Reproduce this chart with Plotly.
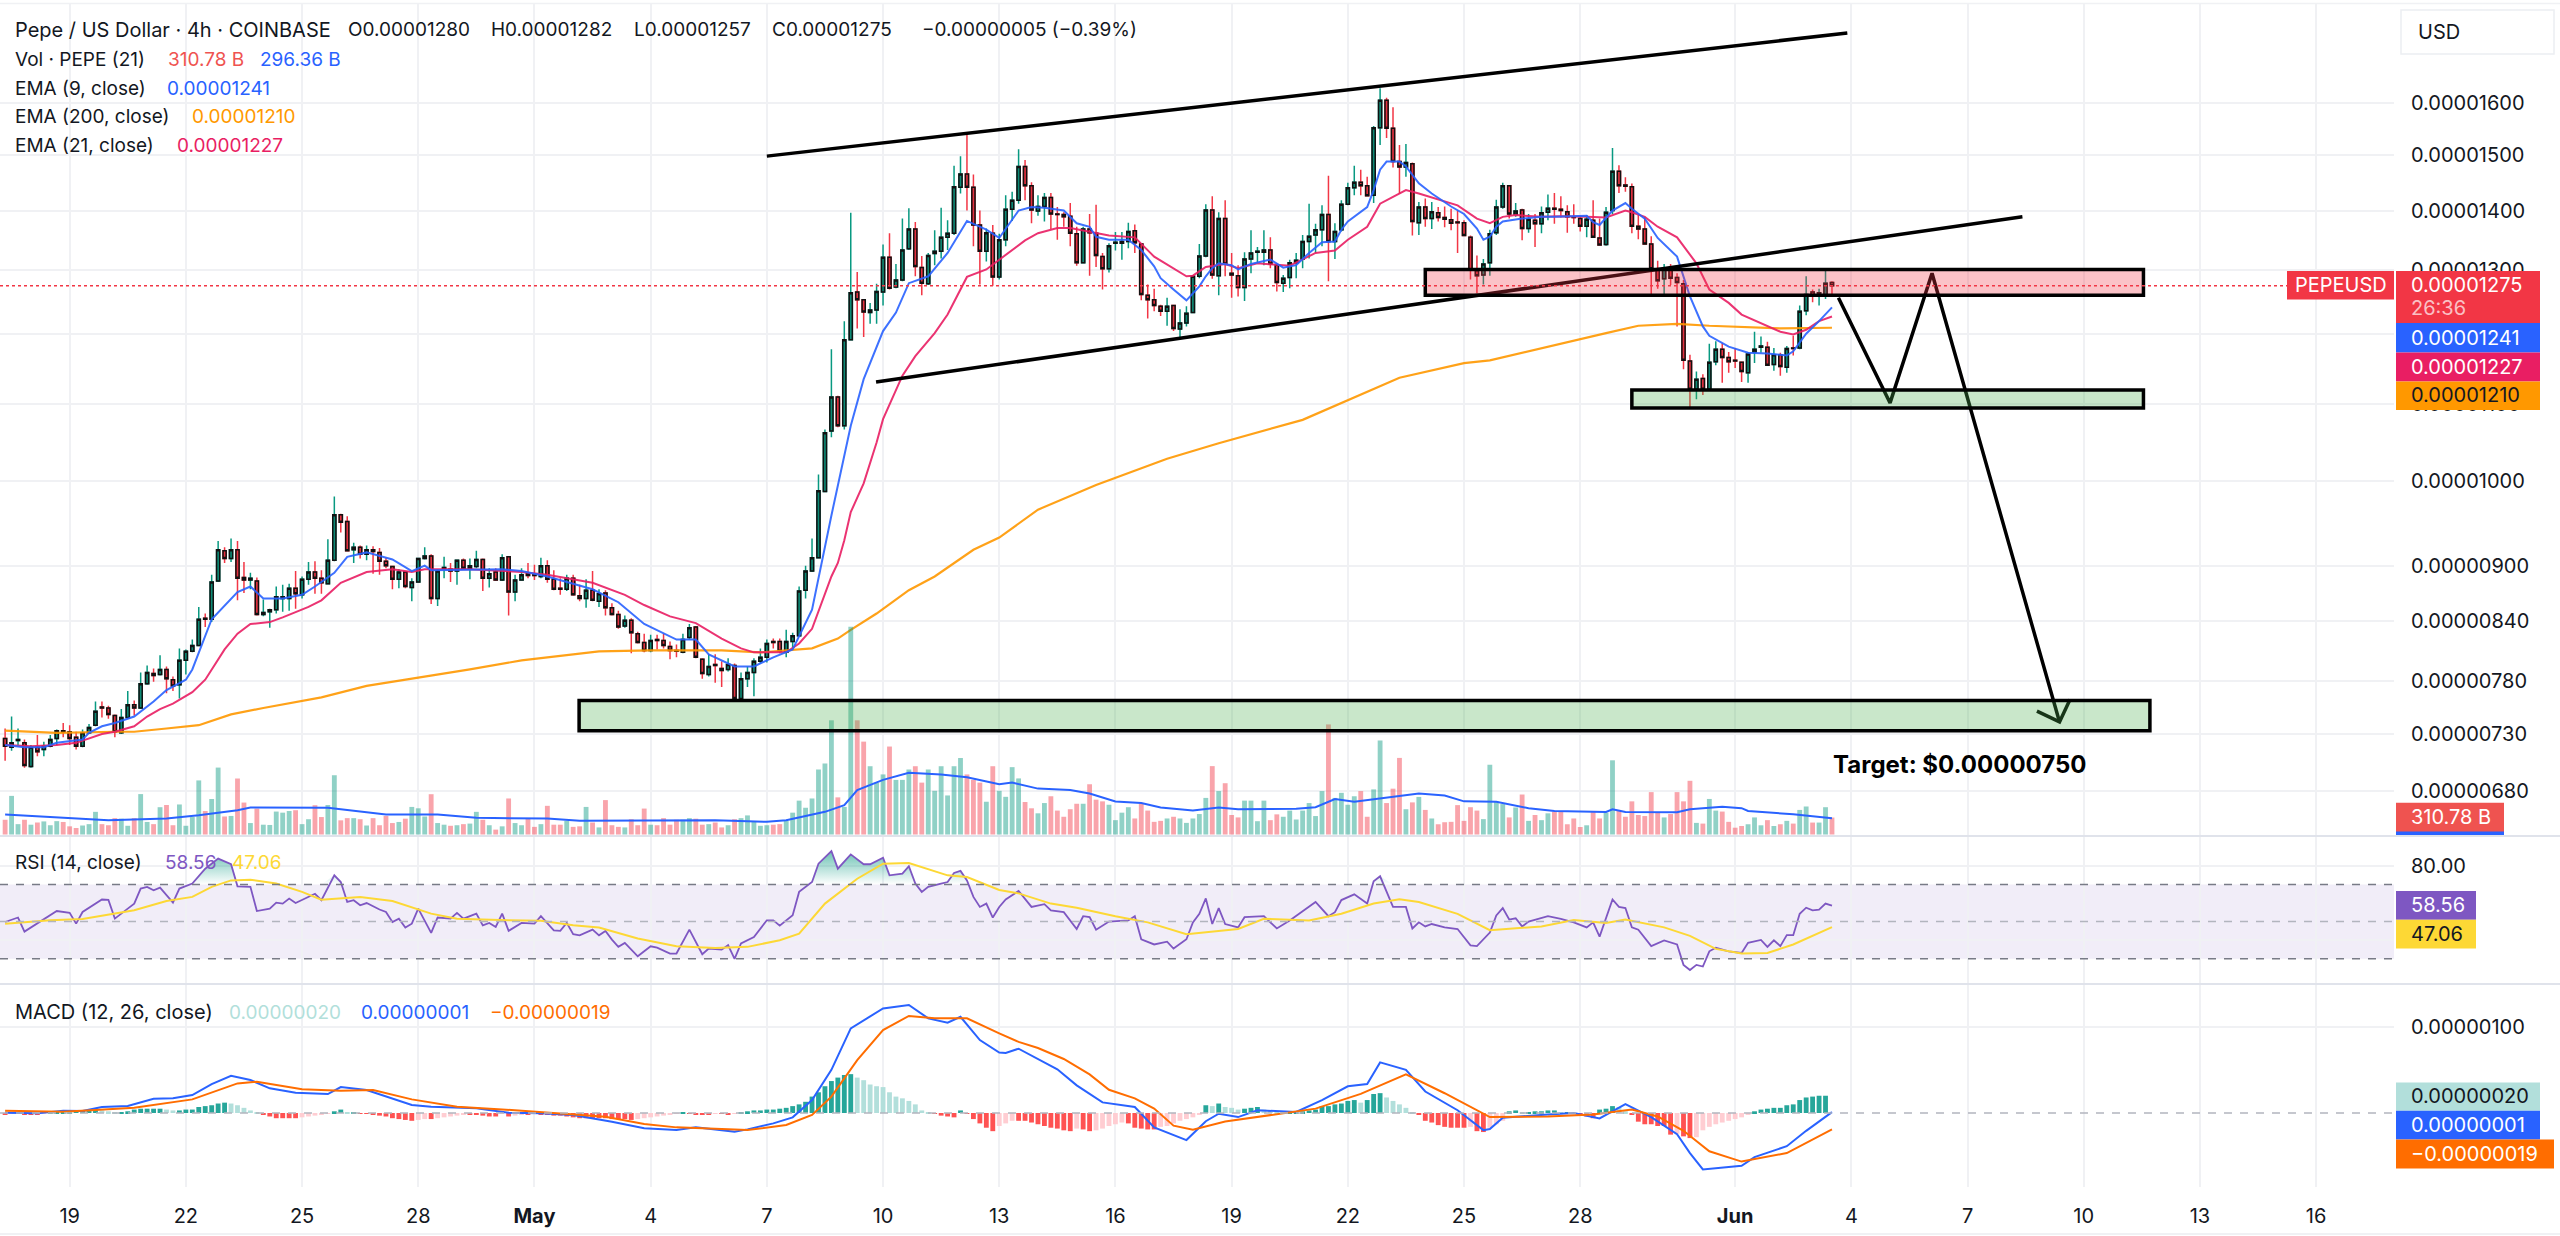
import numpy as np
import pandas as pd
import plotly.graph_objects as go

W, H = 2560, 1236
PLOT_R = 2394
FONT = "Inter"
DARK = "#131722"
GRID = "#f0f1f4"
GREEN = "#089981"
RED = "#F23645"
BLUE = "#2962FF"
PINK = "#E91E63"
ORANGE = "#FF9800"
PURPLE = "#7E57C2"
YELLOW = "#FDD835"
MACD_ORANGE = "#FF6D00"

# precios en unidades de 0.00000001
opens = [726,718,724,722,701,718,716,719,726,733,
         732,727,719,731,738,755,754,747,731,745,
         757,754,777,787,786,791,781,776,800,809,
         815,843,842,883,917,908,918,887,884,883,
         847,850,852,864,864,875,868,885,893,886,
         880,906,959,951,918,921,913,918,915,905,
         899,885,893,876,882,908,911,864,897,896,
         894,906,897,899,907,886,893,884,910,871,
         884,891,890,888,900,885,875,874,886,867,
         864,873,861,870,854,847,835,841,827,818,
         810,821,820,814,810,808,823,834,801,786,
         796,792,791,795,763,782,788,799,803,819,
         819,808,819,825,873,894,909,987,1064,1110,
         1071,1192,1265,1253,1233,1237,1265,1321,1273,1284,
         1335,1368,1304,1278,1327,1331,1354,1361,1441,1465,
         1441,1375,1331,1361,1289,1350,1402,1418,1479,1444,
         1399,1407,1423,1394,1393,1390,1360,1312,1368,1361,
         1322,1302,1344,1344,1347,1365,1343,1260,1253,1243,
         1235,1244,1208,1217,1233,1290,1323,1401,1291,1386,
         1295,1291,1272,1318,1329,1329,1333,1308,1279,1288,
         1312,1318,1347,1358,1367,1393,1347,1367,1411,1440,
         1450,1444,1427,1552,1606,1551,1488,1478,1484,1379,
         1406,1386,1396,1388,1384,1380,1379,1354,1299,1292,
         1312,1362,1406,1444,1394,1401,1369,1383,1377,1397,
         1404,1402,1398,1389,1386,1373,1383,1353,1342,1400,
         1470,1445,1442,1373,1368,1343,1300,1286,1303,1288,
         1278,1161,1121,1136,1121,1160,1178,1166,1162,1159,
         1144,1174,1181,1181,1156,1170,1152,1180,1180,1236,
         1265,1262,1260,1280]
highs = [735,746,735,725,720,729,723,729,734,740,
         738,732,734,739,760,760,756,748,753,770,
         761,788,795,792,805,794,784,812,811,821,
         855,848,890,928,921,931,928,904,892,887,
         863,853,877,879,880,894,888,904,905,895,
         930,981,960,957,926,923,923,922,920,909,
         900,896,894,886,909,921,913,896,910,903,
         907,908,908,917,908,897,897,913,911,890,
         897,903,901,909,906,895,886,890,890,879,
         885,894,874,873,859,851,846,843,829,827,
         826,826,827,819,816,827,837,835,802,806,
         806,799,802,797,788,794,802,812,821,822,
         822,831,828,877,900,931,1008,1066,1178,1112,
         1220,1396,1297,1254,1248,1278,1342,1361,1310,1386,
         1404,1380,1323,1328,1366,1405,1383,1480,1498,1538,
         1464,1400,1369,1375,1360,1427,1433,1511,1491,1450,
         1427,1431,1431,1406,1397,1413,1372,1372,1394,1410,
         1328,1344,1363,1363,1379,1376,1344,1277,1270,1245,
         1256,1245,1238,1243,1292,1343,1411,1425,1397,1418,
         1328,1308,1329,1366,1338,1366,1354,1311,1292,1317,
         1328,1358,1412,1377,1409,1462,1378,1418,1449,1480,
         1473,1460,1555,1630,1611,1592,1519,1521,1486,1415,
         1421,1415,1406,1407,1403,1400,1383,1357,1324,1318,
         1367,1419,1449,1445,1413,1403,1394,1394,1407,1428,
         1431,1425,1409,1411,1389,1392,1418,1386,1406,1513,
         1481,1459,1448,1392,1389,1356,1315,1310,1310,1295,
         1284,1170,1146,1142,1186,1190,1187,1174,1180,1160,
         1174,1204,1197,1189,1180,1173,1183,1198,1244,1290,
         1269,1270,1299,1282]
lows = [706,715,720,700,700,710,710,718,720,727,
        720,716,718,730,737,745,744,727,730,745,
        747,753,776,779,785,768,770,763,786,808,
        815,834,839,882,903,904,862,870,874,846,
        845,833,848,850,851,853,864,879,869,869,
        880,905,938,916,903,908,906,891,890,897,
        874,875,875,861,882,907,858,856,886,882,
        879,896,885,897,872,876,883,883,846,861,
        884,886,884,886,881,873,868,872,867,861,
        854,861,855,846,846,832,833,807,817,808,
        808,811,812,801,803,807,821,802,782,784,
        778,774,789,762,762,774,765,797,798,812,
        807,803,812,824,864,893,908,986,1056,1069,
        1066,1191,1209,1196,1216,1216,1244,1269,1271,1282,
        1333,1290,1260,1276,1308,1319,1333,1358,1430,1400,
        1339,1277,1314,1275,1285,1339,1382,1412,1418,1378,
        1391,1381,1368,1350,1372,1339,1307,1311,1291,1305,
        1269,1296,1332,1317,1336,1328,1252,1224,1235,1228,
        1213,1205,1195,1212,1232,1287,1321,1286,1260,1290,
        1256,1258,1251,1295,1311,1308,1303,1266,1265,1271,
        1287,1303,1319,1328,1339,1282,1318,1364,1409,1427,
        1427,1425,1413,1519,1532,1477,1430,1460,1357,1358,
        1372,1368,1381,1371,1366,1328,1356,1285,1263,1277,
        1291,1358,1403,1386,1389,1349,1362,1338,1361,1383,
        1377,1388,1362,1377,1364,1354,1353,1340,1340,1394,
        1431,1433,1361,1351,1342,1261,1270,1257,1276,1212,
        1149,1095,1107,1113,1120,1155,1130,1144,1151,1131,
        1130,1158,1173,1154,1147,1140,1144,1169,1178,1229,
        1249,1244,1254,1257]
closes = [719,722,725,702,718,714,719,725,733,732,
          726,719,731,736,751,754,748,732,745,757,
          754,777,788,785,791,782,775,800,809,815,
          842,842,882,918,908,918,886,884,886,847,
          849,852,866,866,875,869,885,893,886,881,
          906,959,950,917,921,913,918,916,905,900,
          885,893,877,882,908,911,864,894,898,894,
          906,897,900,907,886,891,884,909,871,884,
          890,889,889,900,885,874,874,886,868,864,
          873,862,869,854,847,834,841,828,818,810,
          820,820,815,810,809,821,833,803,787,794,
          795,790,796,763,782,788,799,803,817,818,
          809,819,825,872,894,909,988,1062,1110,1071,
          1192,1264,1253,1234,1237,1266,1321,1271,1284,1333,
          1368,1306,1279,1324,1331,1354,1361,1442,1465,1441,
          1375,1331,1362,1289,1350,1402,1418,1479,1444,1401,
          1407,1423,1394,1393,1389,1361,1312,1368,1362,1324,
          1302,1340,1346,1347,1364,1345,1261,1253,1244,1235,
          1243,1209,1217,1232,1290,1323,1401,1292,1386,1310,
          1292,1272,1318,1328,1331,1333,1310,1280,1287,1312,
          1316,1347,1356,1367,1393,1347,1364,1411,1440,1450,
          1444,1426,1552,1606,1551,1488,1478,1486,1381,1406,
          1386,1398,1388,1385,1378,1379,1357,1300,1291,1310,
          1360,1406,1444,1394,1399,1369,1385,1377,1396,1404,
          1402,1400,1389,1388,1373,1385,1354,1341,1397,1470,
          1444,1443,1373,1368,1343,1302,1283,1303,1287,1280,
          1162,1121,1135,1121,1159,1178,1166,1160,1161,1146,
          1171,1178,1183,1155,1170,1153,1179,1179,1235,1261,
          1259,1264,1279,1275]

# volumen en miles de millones
volume = [270,707,190,270,180,220,240,170,245,230,
          150,120,165,190,415,190,170,300,290,160,
          300,740,230,190,500,540,170,550,160,320,
          990,430,650,1225,330,340,1025,585,210,475,
          180,175,420,400,430,445,190,280,537,320,
          540,1085,260,300,300,280,165,300,170,340,
          210,230,290,505,480,330,738,210,180,160,
          170,190,200,415,270,170,90,150,660,210,
          170,290,140,190,525,180,180,250,140,150,
          505,220,130,630,170,140,130,280,170,475,
          180,170,300,180,270,270,300,290,180,190,
          220,130,170,280,300,350,240,160,170,180,
          190,250,400,620,490,660,1190,1300,2090,680,
          505,3800,2090,1700,1250,950,1100,1610,1000,1000,
          1190,1250,950,1190,800,1250,715,1250,1400,1100,
          1000,950,600,1250,800,690,1233,1027,595,480,
          388,576,700,438,325,463,563,563,920,638,
          607,545,263,400,500,294,563,438,232,250,
          294,325,294,213,294,375,670,1252,795,939,
          357,313,620,620,244,620,263,369,325,438,
          275,438,576,338,795,2015,670,763,545,700,
          795,325,826,1721,576,839,1402,463,588,688,
          450,294,188,225,232,538,250,500,438,282,
          1277,607,557,313,495,732,250,357,263,388,
          419,419,188,294,138,169,419,294,400,1358,
          450,325,607,357,338,776,400,313,375,776,
          607,983,213,200,651,438,420,232,125,156,
          188,313,169,263,156,188,250,200,450,513,
          219,219,500,311]
vol_ma_bars = [1,9,17,26,31,37,39,51,55,60,68,74,85,90,111,119,122,128,131,133,
               137,141,146,150,155,157,161,166,169,173,177,180,185,189,192,201,204,207,210,215,
               220,224,227,232,237,241,249,250,252,260,262,267,270,271,278,284]
vol_ma = [366,311,262,293,354,446,494,488,433,366,366,305,293,250,262,232,262,415,537,812,
          1000,1130,1100,1050,920,950,840,815,750,605,575,495,438,495,463,470,500,650,600,670,
          750,714,607,600,482,432,413,463,413,407,463,507,482,432,369,296]

ema200_bars = [1,9,18,21,26,31,36,41,50,57,65,73,81,85,93,101,112,118,126,130,
               132,136,141,145,151,155,161,170,181,189,202,217,227,231,243,249,254,260,265,276,284]
ema200 = [733,731,732,732,735,738,748,754,764,775,783,791,800,803,809,810,810,808,812,822,
          831,848,873,888,918,932,965,995,1028,1048,1079,1137,1158,1162,1189,1202,1213,1216,1213,1209,1210]

ema9_bars = [1,3,4,7,9,13,14,16,18,21,24,26,29,30,33,37,39,41,44,47,
             49,52,54,57,61,64,66,67,73,78,81,85,92,96,100,105,108,110,114,117,
             120,123,126,129,132,134,137,139,141,144,147,150,153,155,158,160,162,165,167,169,
             170,172,175,177,179,180,182,184,186,187,188,189,191,192,194,197,199,201,203,205,
             207,208,209,212,213,214,215,217,218,220,222,225,227,229,230,231,232,233,236,239,
             241,246,247,248,250,252,253,255,257,260,262,264,265,268,271,274,277,278,280,282,284]
ema9 = [720,719,718,718,722,725,731,737,740,746,760,771,781,791,842,871,877,864,864,868,
        877,892,910,915,907,894,900,895,896,896,894,888,874,860,837,821,821,806,794,794,
        803,811,852,958,1071,1135,1205,1233,1279,1290,1328,1382,1367,1353,1400,1406,1405,1400,1378,1372,
        1355,1350,1350,1333,1306,1287,1269,1252,1274,1290,1303,1311,1308,1301,1310,1317,1304,1308,1328,1346,
        1347,1367,1381,1406,1436,1473,1488,1488,1479,1448,1430,1407,1394,1369,1350,1355,1372,1381,1386,1389,
        1389,1391,1380,1375,1400,1413,1403,1386,1353,1322,1258,1212,1198,1182,1173,1172,1169,1175,1201,1220,1241]

ema21_bars = [1,5,9,12,16,18,21,23,25,27,30,32,35,37,39,42,44,48,50,53,
              57,61,64,66,73,81,85,92,97,100,104,108,112,115,117,122,124,126,129,130,
              131,132,134,136,137,140,142,145,147,150,153,155,159,161,164,166,172,176,179,184,
              185,187,190,192,195,200,204,207,209,212,214,216,218,220,226,229,231,233,235,239,
              242,246,249,252,253,255,257,260,263,265,268,270,273,276,278,280,282,284]
ema21 = [720,719,720,722,730,732,737,746,753,758,769,781,811,827,837,839,844,855,862,881,
         893,896,893,896,896,893,890,881,868,857,845,838,822,812,808,808,817,832,888,903,
         929,962,997,1049,1080,1140,1168,1202,1230,1289,1301,1317,1349,1361,1370,1370,1357,1354,1322,1290,
         1291,1305,1310,1303,1311,1307,1328,1332,1350,1372,1412,1424,1436,1430,1409,1386,1378,1389,1392,1389,
         1390,1389,1388,1400,1397,1389,1372,1354,1311,1269,1248,1230,1217,1204,1200,1207,1220,1227]

rsi_bars = [1,3,4,6,9,11,12,13,16,17,18,20,21,22,23,24,25,27,28,30,
            32,34,36,37,39,40,42,43,44,45,46,49,50,52,53,54,55,56,57,59,
            60,61,62,63,64,65,67,68,70,71,72,74,75,76,77,78,79,81,83,84,
            86,87,88,89,90,92,93,94,95,96,97,99,101,102,104,105,107,109,110,112,
            113,114,115,117,119,120,121,123,124,126,127,129,130,132,134,135,137,138,140,141,
            142,143,144,146,147,148,149,150,151,152,153,154,155,156,158,160,162,163,165,167,
            168,169,170,172,175,176,177,179,181,182,184,185,186,187,188,189,190,192,193,196,
            198,200,202,204,206,207,208,210,212,213,214,216,218,219,220,221,222,224,226,228,
            229,231,232,233,234,235,236,237,240,242,244,246,247,248,250,251,252,253,254,256,
            258,260,261,262,263,264,265,266,268,270,271,273,274,275,276,277,278,279,280,281,
            282,283,284]
rsi = [49.8,52.2,44.6,48.9,55.7,54.7,48.9,55.2,61.9,61.7,51.6,57,59.7,67.8,68.7,66.9,68.3,60.2,67.8,70.5,
       78.5,83.9,80.9,69,68.7,55.7,57,60.2,59.7,62.4,60,65,61.5,74.9,71.3,60.6,61.5,58.8,60,56.5,
       55.2,49.8,51.6,46.8,48.9,57,43.9,52.2,51.6,54.7,51.6,54.3,48,49.3,47.1,54.3,45,49.3,48.9,52.9,
       45.3,45,49.3,43.2,42.6,45.7,42.6,45,40.3,36.4,38.5,31.3,36.7,36,32.8,32.8,45.7,32.4,35.5,34.9,
       37.3,29.9,38.2,41.7,50.7,50.7,47.8,53.4,66,71.3,81.2,88,78.5,86.2,80.9,80.9,84.4,74.9,75.8,79.8,
       70.5,66,68.7,70.5,71.3,76.2,77.3,72.2,63.3,57.9,59.7,52.2,57.9,61.9,66.5,57.9,59.4,56,55.1,46,
       52.9,52.4,45.6,50,50.6,52.9,40.5,37.7,39.2,35.5,40.5,49.6,54.2,62.5,48.7,57.3,48.7,46.9,52.4,52.9,
       46.3,50.6,55.5,60.6,52.9,55.1,61.6,64.7,59.7,71.7,74.4,57.9,57.9,46.3,49.6,47.4,48.7,46.9,46,37.2,
       36.8,44.1,53.3,57.3,51.1,51.8,47.4,50,52.9,51.5,49.6,46.9,49.6,41.9,61.9,57.9,57.3,46.9,45.6,36.8,
       39.9,37.7,26.7,23.9,26.7,25.8,34,35.9,34,33.1,38.6,40.1,36.4,39.9,36.8,42.7,42.7,54.2,57.5,56.1,
       56.4,59.7,58.56]
rsi_ma_bars = [1,4,8,13,17,21,26,30,33,36,39,43,47,50,56,61,67,71,79,84,
               89,93,99,105,111,116,121,124,128,133,137,141,147,150,155,158,163,167,173,178,
               184,189,192,196,203,208,213,217,220,226,231,239,244,249,252,258,262,266,270,274,278,284]
rsi_ma = [48.9,49.8,50.7,51.4,53.9,56.1,61.1,63.3,68.7,72.2,72.6,70.5,66,61.8,63.3,61.1,54.3,51.6,50.7,50.4,
          48,46.8,40.9,36.7,35.8,36.4,40,43.5,59.7,73.1,81.2,81.6,74.9,74,67,65.2,59.7,57.5,52.9,49.6,
          43.2,44.7,46,51.5,50.6,54.2,59.7,62.1,60.6,54.2,45.4,47.4,50.9,49.3,51.1,46.9,42.3,35.3,32.8,33.1,37.7,47.06]

macd_bars = [1,6,10,13,16,20,24,27,30,33,36,39,42,46,51,53,57,60,64,67,
             74,79,84,89,95,100,105,108,114,116,120,123,126,129,132,137,141,144,147,149,
             152,155,156,158,161,164,167,171,176,179,184,187,189,192,195,201,205,209,212,214,
             218,221,226,230,231,233,240,244,248,252,256,260,262,264,270,272,277,280,284]
macd = [0.4,-0.4,2.7,2.3,6.9,8.1,16.6,17,20.8,33.5,43.1,38.2,28.6,23.5,22,30,26.6,18.9,9.3,7.3,
        5.4,0.4,-0.4,-2.3,-10,-17.7,-19.7,-16.6,-21.6,-18.9,-12,-5,15,50,98,121,125,109.5,104.5,111.4,
        84.4,70,69.6,74.4,62.5,50.6,32,12.3,7,-16.6,-31.3,-9.5,-0.8,-4.7,3.2,1.2,15,30.9,33.6,58.6,
        49.9,24.9,3.2,-19.8,-18.6,-5.5,-1.6,0,-6.3,10.3,-4.7,-24.5,-46.3,-65.3,-61,-51,-38.4,-20.6,1]
signal_bars = [1,10,15,21,30,34,37,40,47,53,58,64,71,78,85,94,100,105,109,116,
               122,126,129,133,137,141,145,150,155,158,161,165,169,172,176,179,182,185,190,194,
               198,204,211,218,224,231,240,247,253,257,261,265,270,277,284]
signal = [2.7,1.5,3.5,6.2,15.8,26.6,34.3,36.3,27.4,25.8,26.6,15.8,7.3,4.2,0.4,-4.2,-12.7,-16.6,-17.7,-19.7,
          -13.9,-2.3,18.9,61.3,96,112.3,109.6,109.6,92.2,82.3,75.2,62.5,44.7,26.9,17,5.1,-14.6,-19.4,-9.9,-5.5,
          -1.6,5.1,22.2,44.7,22.9,-4.7,-4,-1.6,4,-4,-20.6,-44.3,-56.2,-46.3,-19]
hist = [-2,-1,-1,-2,-2,-2,-1,1,1,2,
        2,3,3,4,4,3,2,1,1,2,
        4,5,5,5,5,4,3,3,4,4,
        7,8,9,11,12,11,9,6,3,1,
        -2,-4,-6,-6,-6,-6,-5,-4,-3,-2,
        -1,2,4,1,1,-1,-1,-2,-3,-4,
        -6,-7,-8,-9,-8,-7,-7,-6,-5,-4,
        -3,-2,-2,-2,-3,-4,-4,-1,-4,-3,
        -2,-2,-1,-2,-2,-3,-3,-4,-5,-6,
        -6,-6,-6,-6,-7,-7,-7,-8,-7,-6,
        -5,-4,-3,-2,-1,1,-1,-2,-2,-2,
        -1,-1,-2,-1,1,2,3,3,4,4,
        5,6,8,10,13,19,24,31,37,41,
        44,45,41,38,33,31,30,24,19,17,
        14,10,3,1,-1,-3,-4,-5,3,-1,
        -7,-12,-17,-21,-15,-12,-9,-9,-9,-11,
        -13,-15,-17,-18,-20,-21,-18,-19,-21,-20,
        -18,-15,-13,-11,-12,-17,-18,-19,-19,-16,
        -15,-12,-9,-7,-5,-2,9,8,11,7,
        6,4,5,6,7,4,3,2,1,2,
        2,2,3,4,8,8,10,11,14,15,
        12,15,22,23,18,14,10,6,1,-2,
        -9,-11,-14,-16,-17,-17,-17,-16,-21,-22,
        -17,-13,-9,2,3,1,1,2,2,3,
        3,1,1,0,-1,-4,-6,4,5,8,
        7,2,-2,-10,-13,-13,-15,-15,-25,-24,
        -27,-29,-28,-20,-16,-13,-11,-9,-7,-5,
        -2,2,4,5,6,6,9,10,15,18,
        19,20,20]

bar_start = "2025-04-17 08:00"
x_range = ["2025-04-17 04:50", "2025-06-18 00:15"]

date_ticks = ["2025-04-19","2025-04-22","2025-04-25","2025-04-28","2025-05-01","2025-05-04","2025-05-07",
              "2025-05-10","2025-05-13","2025-05-16","2025-05-19","2025-05-22","2025-05-25","2025-05-28",
              "2025-06-01","2025-06-04","2025-06-07","2025-06-10","2025-06-13","2025-06-16"]
date_labels = ["19","22","25","28","<b>May</b>","4","7","10","13","16","19","22","25","28",
               "<b>Jun</b>","4","7","10","13","16"]
price_ticks = [1600,1500,1400,1300,1200,1100,1000,900,840,780,730,680]
price_labels = ["0.00001600","0.00001500","0.00001400","0.00001300","","0.00001100",
                "0.00001000","0.00000900","0.00000840","0.00000780","0.00000730","0.00000680"]

# dibujos sobre el grafico
upper_line_x = ["2025-05-07 00:00", "2025-06-03 21:30"]
upper_line_y = [1498, 1746]
lower_line_x = ["2025-05-09 19:40", "2025-06-08 10:00"]
lower_line_y = [1131, 1389]
path_x = ["2025-06-03 16:00", "2025-06-05 00:00", "2025-06-06 02:00", "2025-06-09 09:00"]
path_y = [1256, 1102, 1295, 741]
head_x = ["2025-06-08 19:00", "2025-06-09 09:00", "2025-06-09 15:30"]
head_y = [751, 741, 762]
red_zone = ["2025-05-24 00:00", "2025-06-11 13:00", 1260, 1301]
green_zone = ["2025-05-29 08:00", "2025-06-11 13:00", 1095, 1120]
target_zone = ["2025-05-02 03:40", "2025-06-11 17:00", 733, 761]

UNIT = 1e-8
bar_times = pd.date_range(bar_start, periods=len(closes), freq="4h")


def at_bars(bars):
    return bar_times[np.array(bars) - 1]


def prices(values):
    return [v * UNIT for v in values]


def dom(top, bottom):
    return [1 - bottom / H, 1 - top / H]


fig = go.Figure()

# volumen
vol_colors = ["rgba(8,153,129,0.45)" if c >= o else "rgba(242,54,69,0.45)" for o, c in zip(opens, closes)]
fig.add_trace(go.Bar(x=bar_times, y=volume, marker=dict(color=vol_colors, line_width=0),
                     width=3 * 3600 * 1000, xaxis="x", yaxis="y2"))
fig.add_trace(go.Scatter(x=at_bars(vol_ma_bars), y=vol_ma, mode="lines", line=dict(color=BLUE, width=2),
                         xaxis="x", yaxis="y2"))

# velas: primero las mechas de color y luego los cuerpos con borde negro
fig.add_trace(go.Candlestick(x=bar_times, open=prices(opens), high=prices(highs), low=prices(lows), close=prices(closes),
                             whiskerwidth=0,
                             increasing=dict(line=dict(color=GREEN, width=1.5), fillcolor=GREEN),
                             decreasing=dict(line=dict(color=RED, width=1.5), fillcolor=RED),
                             xaxis="x", yaxis="y"))
body_top = [max(o, c) for o, c in zip(opens, closes)]
body_bot = [min(o, c) for o, c in zip(opens, closes)]
fig.add_trace(go.Candlestick(x=bar_times, open=prices(opens), high=prices(body_top), low=prices(body_bot), close=prices(closes),
                             whiskerwidth=0,
                             increasing=dict(line=dict(color="#111111", width=1.5), fillcolor="#0d8a75"),
                             decreasing=dict(line=dict(color="#111111", width=1.5), fillcolor="#e5303f"),
                             xaxis="x", yaxis="y"))

for bars, vals, col, lw in [(ema200_bars, ema200, ORANGE, 2.2), (ema21_bars, ema21, PINK, 2), (ema9_bars, ema9, BLUE, 2)]:
    fig.add_trace(go.Scatter(x=at_bars(bars), y=prices(vals), mode="lines", line=dict(color=col, width=lw),
                             opacity=0.9, xaxis="x", yaxis="y"))

# lineas negras
for xs, ys in [(upper_line_x, upper_line_y), (lower_line_x, lower_line_y), (path_x, path_y), (head_x, head_y)]:
    fig.add_trace(go.Scatter(x=xs, y=prices(ys), mode="lines", line=dict(color="black", width=3.5),
                             xaxis="x", yaxis="y"))

# RSI
rsi_x = list(at_bars(rsi_bars))
rsi_clip = [max(v, 70) for v in rsi]
fig.add_trace(go.Scatter(x=rsi_x + rsi_x[::-1], y=rsi_clip + [70] * len(rsi_x), mode="lines", line_width=0,
                         fill="toself",
                         fillgradient=dict(type="vertical", start=70, stop=88,
                                           colorscale=[[0, "rgba(8,153,129,0)"], [1, "rgba(8,153,129,0.6)"]]),
                         xaxis="x2", yaxis="y3"))
fig.add_trace(go.Scatter(x=at_bars(rsi_bars), y=rsi, mode="lines", line=dict(color=PURPLE, width=1.8),
                         xaxis="x2", yaxis="y3"))
fig.add_trace(go.Scatter(x=at_bars(rsi_ma_bars), y=rsi_ma, mode="lines", line=dict(color=YELLOW, width=2),
                         xaxis="x2", yaxis="y3"))

# MACD
hist_colors = []
for i, v in enumerate(hist):
    prev = hist[i - 1] if i else v
    if v >= 0:
        hist_colors.append("#26A69A" if v >= prev else "#B2DFDB")
    else:
        hist_colors.append("#FF5252" if v <= prev else "#FFCDD2")
fig.add_trace(go.Bar(x=bar_times, y=hist, marker=dict(color=hist_colors, line_width=0),
                     width=3 * 3600 * 1000, xaxis="x3", yaxis="y4"))
fig.add_trace(go.Scatter(x=at_bars(macd_bars), y=macd, mode="lines", line=dict(color=BLUE, width=2),
                         xaxis="x3", yaxis="y4"))
fig.add_trace(go.Scatter(x=at_bars(signal_bars), y=signal, mode="lines", line=dict(color=MACD_ORANGE, width=2),
                         xaxis="x3", yaxis="y4"))

shapes = []


def zone(z, fill):
    shapes.append(dict(type="rect", xref="x", yref="y", x0=z[0], x1=z[1], y0=z[2] * UNIT, y1=z[3] * UNIT,
                       fillcolor=fill, line=dict(color="black", width=3.5), layer="above"))


zone(target_zone, "rgba(76,175,80,0.3)")
zone(green_zone, "rgba(76,175,80,0.3)")
zone(red_zone, "rgba(242,54,69,0.3)")

# linea del precio actual
shapes.append(dict(type="line", xref="x domain", yref="y", x0=0, x1=1, y0=closes[-1] * UNIT, y1=closes[-1] * UNIT,
                   line=dict(color=RED, width=1.5, dash="dot"), layer="above"))

# banda y niveles del RSI
shapes.append(dict(type="rect", xref="x2 domain", yref="y3", x0=0, x1=1, y0=30, y1=70,
                   fillcolor="rgba(126,87,194,0.11)", line_width=0, layer="below"))
for lvl, col in [(70, "#787B86"), (50, "#B2B5BE"), (30, "#787B86")]:
    shapes.append(dict(type="line", xref="x2 domain", yref="y3", x0=0, x1=1, y0=lvl, y1=lvl,
                       line=dict(color=col, width=1.5, dash="8px,8px"), layer="above"))
shapes.append(dict(type="line", xref="x3 domain", yref="y4", x0=0, x1=1, y0=0, y1=0,
                   line=dict(color="#B2B5BE", width=1.5, dash="8px,8px"), layer="above"))


def hline(y, col="#e0e3eb", width=2):
    shapes.append(dict(type="line", xref="paper", yref="paper", x0=0, x1=1, y0=1 - y / H, y1=1 - y / H,
                       line=dict(color=col, width=width), layer="above"))


hline(836)
hline(984)
hline(3.5, GRID, 1.5)
hline(1234, GRID, 2)

notes = []


def note(x, y, text, color=DARK, size=20, anchor="left", weight=None):
    if weight:
        text = "<b>%s</b>" % text
    notes.append(dict(xref="paper", yref="paper", x=x / W, y=1 - y / H, text=text, showarrow=False,
                      xanchor=anchor, yanchor="middle", font=dict(family=FONT, color=color, size=size),
                      borderpad=0))


def tag(x0, y0, x1, y1, color):
    shapes.append(dict(type="rect", xref="paper", yref="paper", x0=x0 / W, x1=x1 / W, y0=1 - y1 / H, y1=1 - y0 / H,
                       fillcolor=color, line_width=0, layer="above"))


# etiquetas del eje derecho
tag(2287, 271, 2394, 299.6, RED)
note(2340.5, 285, "PEPEUSD", "white", anchor="center")
tag(2396, 271, 2540, 323, RED)
note(2410, 284.6, "0.00001275", "white")
note(2410, 308, "26:36", "rgba(255,255,255,0.7)")
tag(2396, 323, 2540, 352.6, BLUE)
note(2410, 338, "0.00001241", "white")
tag(2396, 352.6, 2540, 381.4, PINK)
note(2410, 367, "0.00001227", "white")
tag(2396, 381.4, 2540, 410, ORANGE)
note(2410, 395, "0.00001210", "#131722")
tag(2396, 831, 2504, 835, BLUE)
tag(2396, 802.7, 2504, 831.4, "#EF5350")
note(2410, 816.5, "310.78 B", "white")
tag(2396, 891, 2476, 919.8, PURPLE)
note(2410, 905, "58.56", "white")
tag(2396, 919.8, 2476, 948.5, YELLOW)
note(2410, 934, "47.06", "#131722")
tag(2396, 1082.5, 2540, 1110.8, "#B2DFDB")
note(2410, 1096, "0.00000020", "#131722")
tag(2396, 1110.8, 2540, 1139.5, BLUE)
note(2410, 1125, "0.00000001", "white")
tag(2396, 1139.5, 2554, 1168.5, MACD_ORANGE)
note(2410, 1154, "\u22120.00000019", "white")

# caja de la moneda
shapes.append(dict(type="rect", xref="paper", yref="paper", x0=2401 / W, x1=2554 / W, y0=1 - 54 / H, y1=1 - 10 / H,
                   line=dict(color="#eceef2", width=1.5), fillcolor="white", layer="above"))
note(2417, 32, "USD")

# leyendas
note(14, 30, "Pepe / US Dollar \u00b7 4h \u00b7 COINBASE", size=20)
note(347, 30, "O0.00001280", size=19)
note(490, 30, "H0.00001282", size=19)
note(633, 30, "L0.00001257", size=19)
note(771, 30, "C0.00001275", size=19)
note(921, 30, "\u22120.00000005 (\u22120.39%)", size=19)
note(14, 59, "Vol \u00b7 PEPE (21)", size=19)
note(167, 59, "310.78 B", "#EF5350", 19)
note(259, 59, "296.36 B", BLUE, 19)
note(14, 88, "EMA (9, close)", size=19)
note(166, 88, "0.00001241", BLUE, 19)
note(14, 117, "EMA (200, close)", size=19)
note(191, 117, "0.00001210", ORANGE, 19)
note(14, 146, "EMA (21, close)", size=19)
note(175.5, 146, "0.00001227", PINK, 19)
note(14, 863, "RSI (14, close)", size=19)
note(164, 863, "58.56", PURPLE, 19)
note(231, 863, "47.06", YELLOW, 19)
note(14, 1012, "MACD (12, 26, close)", size=20)
note(228, 1012, "0.00000020", "#B2DFDB", 19)
note(360, 1012, "0.00000001", BLUE, 19)
note(489, 1012, "\u22120.00000019", MACD_ORANGE, 19)
note(1832, 764, "Target: $0.00000750", "black", 24, weight=True)

x_common = dict(type="date", range=x_range, domain=[0, PLOT_R / W], showgrid=True, gridcolor=GRID, gridwidth=1.5,
                tickvals=date_ticks, ticks="", showline=False, zeroline=False, fixedrange=True)
y_common = dict(side="right", showgrid=True, gridcolor=GRID, gridwidth=1.5, zeroline=False, showline=False,
                ticks="", tickfont=dict(family=FONT, size=20, color=DARK), ticklabelstandoff=16)

fig.update_layout(
    width=W, height=H, margin=dict(l=0, r=0, t=0, b=0), autosize=False,
    paper_bgcolor="white", plot_bgcolor="white", showlegend=False, hovermode=False,
    barmode="overlay", shapes=shapes, annotations=notes,
    xaxis=dict(anchor="y", showticklabels=False, rangeslider=dict(visible=False), **x_common),
    xaxis2=dict(anchor="y3", showticklabels=False, **x_common),
    xaxis3=dict(anchor="y4", showticklabels=True, ticktext=date_labels, ticklabelstandoff=15,
                tickfont=dict(family=FONT, size=20, color=DARK), **x_common),
    yaxis=dict(anchor="x", type="log", domain=dom(4, 836), range=[-5.1918, -4.7423],
               tickvals=prices(price_ticks), ticktext=price_labels, **y_common),
    # comparte el alto del panel principal: 18.3 B por pixel desde la base
    yaxis2=dict(anchor="x", overlaying="y", range=[-27, 15198], visible=False),
    yaxis3=dict(anchor="x2", domain=dom(836, 984), range=[16.4, 96.1], tickvals=[40, 80], ticktext=["", "80.00"],
                **y_common),
    yaxis4=dict(anchor="x3", domain=dom(984, 1187), range=[-85.6, 149.3], tickvals=[100], ticktext=["0.00000100"],
                **y_common),
)

fig.write_html("out.html", config={"displayModeBar": False}, post_script="document.body.style.margin='0';")
